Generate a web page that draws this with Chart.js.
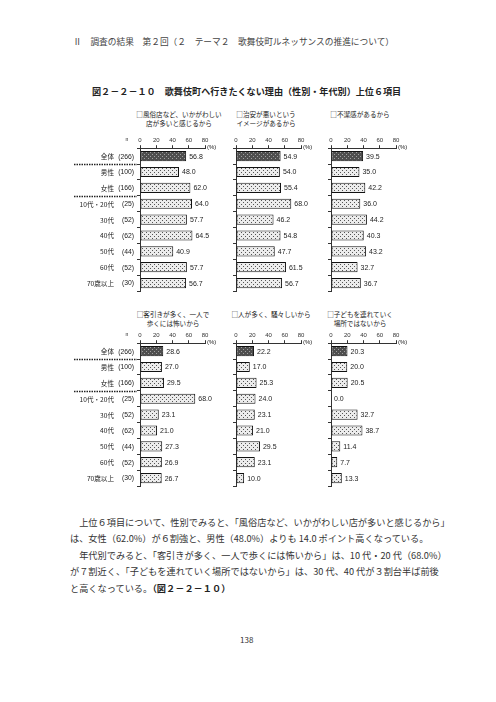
<!DOCTYPE html>
<html>
<head>
<meta charset="utf-8">
<script src="https://cdn.jsdelivr.net/npm/chart.js@4.4.0/dist/chart.umd.min.js"></script>
<style>
body{margin:0;width:496px;height:702px;background:#fff;position:relative;overflow:hidden;font-family:"Noto Sans CJK JP",sans-serif;color:#222}
.t{position:absolute;white-space:nowrap}
.pt{position:absolute;text-align:center;font-size:6.6px;line-height:8.5px;width:120px;color:#222}
.body{position:absolute;left:70px;font-size:9.2px;color:#333;white-space:nowrap}
canvas{position:absolute}
</style>
</head>
<body>
<div class="t" style="left:73px;top:35px;font-size:8.7px;color:#444">Ⅱ　調査の結果　第２回（２　テーマ２　歌舞伎町ルネッサンスの推進について）</div>
<div class="t" style="left:92px;top:84px;font-size:9.1px;font-weight:bold;color:#222">図２－２－１０　歌舞伎町へ行きたくない理由（性別・年代別）上位６項目</div>

<div class="pt" style="left:119px;top:110px">□風俗店など、いかがわしい<br>店が多いと感じるから</div>
<div class="pt" style="left:206px;top:110px">□治安が悪いという<br>イメージがあるから</div>
<div class="pt" style="left:300px;top:110px">□不潔感があるから</div>
<div class="pt" style="left:113px;top:310px">□客引きが多く、一人で<br>歩くには怖いから</div>
<div class="pt" style="left:211px;top:310px">□人が多く、騒々しいから</div>
<div class="pt" style="left:300px;top:310px">□子どもを連れていく<br>場所ではないから</div>

<canvas id="c1" width="173" height="172" style="left:60px;top:126px"></canvas>
<canvas id="c2" width="102" height="172" style="left:227px;top:126px"></canvas>
<canvas id="c3" width="102" height="172" style="left:322px;top:126px"></canvas>
<canvas id="c4" width="173" height="172" style="left:60px;top:321px"></canvas>
<canvas id="c5" width="102" height="172" style="left:227px;top:321px"></canvas>
<canvas id="c6" width="102" height="172" style="left:322px;top:321px"></canvas>

<div class="body" style="top:515px">　上位６項目について、性別でみると、「風俗店など、いかがわしい店が多いと感じるから」</div>
<div class="body" style="top:531px">は、女性（62.0%）が６割強と、男性（48.0%）よりも 14.0 ポイント高くなっている。</div>
<div class="body" style="top:548px">　年代別でみると、「客引きが多く、一人で歩くには怖いから」は、10 代・20 代（68.0%）</div>
<div class="body" style="top:564px">が７割近く、「子どもを連れていく場所ではないから」は、30 代、40 代が３割台半ば前後</div>
<div class="body" style="top:581px">と高くなっている。<b style="color:#222">（図２－２－１０）</b></div>
<div class="t" style="left:240px;top:634px;font-size:8px;color:#333">138</div>

<script>
// 属性（性別・年代別）とサンプル数
var groups = ['全体', '男性', '女性', '10代・20代', '30代', '40代', '50代', '60代', '70歳以上'];
var counts = ['(266)', '(100)', '(166)', '(25)', '(52)', '(62)', '(44)', '(52)', '(30)'];
var xTicks = [0, 20, 40, 60, 80];

// 各理由の割合（%）
var fuzoku = [56.8, 48.0, 62.0, 64.0, 57.7, 64.5, 40.9, 57.7, 56.7];
var chian = [54.9, 54.0, 55.4, 68.0, 46.2, 54.8, 47.7, 61.5, 56.7];
var fuketsu = [39.5, 35.0, 42.2, 36.0, 44.2, 40.3, 43.2, 32.7, 36.7];
var kyakuhiki = [28.6, 27.0, 29.5, 68.0, 23.1, 21.0, 27.3, 26.9, 26.7];
var sawagashii = [22.2, 17.0, 25.3, 24.0, 23.1, 21.0, 29.5, 23.1, 10.0];
var kodomo = [20.3, 20.0, 20.5, 0.0, 32.7, 38.7, 11.4, 7.7, 13.3];

var numFont = '"Liberation Sans", Arial, sans-serif';
var jpFont = '"Noto Sans CJK JP", sans-serif';

// 網掛けパターン（細かい点）
function dotPattern(ctx, base, dot) {
  var c = document.createElement('canvas');
  c.width = 4; c.height = 4;
  var g = c.getContext('2d');
  g.fillStyle = base;
  g.fillRect(0, 0, 4, 4);
  g.fillStyle = dot;
  g.fillRect(0, 0, 1, 1);
  g.fillRect(2, 2, 1, 1);
  return ctx.createPattern(c, 'repeat');
}

// 数値ラベル・(%)・左側の属性名
var sidePlugin = {
  id: 'side',
  afterDraw: function(chart) {
    var ctx = chart.ctx;
    var x = chart.scales.x;
    var y = chart.scales.y;
    var meta = chart.getDatasetMeta(0);
    var vals = chart.data.datasets[0].data;
    ctx.save();
    ctx.fillStyle = '#222';
    ctx.textBaseline = 'middle';
    ctx.textAlign = 'left';
    ctx.font = '7px ' + numFont;
    meta.data.forEach(function(bar, i) {
      ctx.fillText(vals[i].toFixed(1), bar.x + 3, bar.y + 0.5);
    });
    ctx.font = '6px ' + numFont;
    ctx.fillText('(%)', x.right + 2, x.bottom - 1);

    if (chart.options.plugins.side.show) {
      var left = chart.chartArea.left;
      ctx.textAlign = 'right';
      groups.forEach(function(g, i) {
        var py = y.getPixelForValue(i) + 0.5;
        ctx.font = '6.6px ' + jpFont;
        ctx.fillText(g, left - 26, py);
        ctx.font = '6.8px ' + numFont;
        ctx.fillText(counts[i], left - 6, py);
      });
      ctx.textAlign = 'center';
      ctx.font = '5px ' + numFont;
      ctx.fillText('n', left - 13, x.top + 4);
      // 区切りの点線
      ctx.strokeStyle = '#222';
      ctx.lineWidth = 1.5;
      ctx.setLineDash([1.5, 1]);
      [0, 2].forEach(function(i) {
        var py = Math.round((y.getPixelForValue(i) + y.getPixelForValue(i + 1)) / 2) + 0.5;
        ctx.beginPath();
        ctx.moveTo(left - 66, py);
        ctx.lineTo(left - 3, py);
        ctx.stroke();
      });
    }
    ctx.restore();
  }
};

function makeChart(id, values, showSide) {
  var ctx = document.getElementById(id).getContext('2d');
  var light = dotPattern(ctx, '#ececec', '#555555');
  var dark = dotPattern(ctx, '#4e4e4e', '#a0a0a0');
  return new Chart(ctx, {
    type: 'bar',
    data: {
      labels: groups,
      datasets: [{
        data: values,
        backgroundColor: values.map(function(v, i) { return i === 0 ? dark : light; }),
        borderColor: '#111',
        borderWidth: 1,
        borderSkipped: false,
        barPercentage: 0.64,
        categoryPercentage: 1
      }]
    },
    options: {
      indexAxis: 'y',
      responsive: false,
      animation: false,
      devicePixelRatio: 1,
      events: [],
      layout: { padding: { left: showSide ? 77 : 6, right: 28, top: 10, bottom: 7 } },
      scales: {
        x: {
          position: 'top',
          min: 0,
          max: 80,
          afterBuildTicks: function(s) { s.ticks = xTicks.map(function(v) { return { value: v }; }); },
          ticks: { font: { size: 6, family: numFont }, color: '#333', padding: 1, maxRotation: 0 },
          grid: { drawOnChartArea: false, tickLength: 3, color: '#333' },
          border: { color: '#333' }
        },
        y: {
          ticks: { display: false },
          grid: { drawOnChartArea: false, tickLength: 3, color: '#333' },
          border: { color: '#333' }
        }
      },
      plugins: {
        legend: { display: false },
        tooltip: { enabled: false },
        side: { show: showSide }
      }
    },
    plugins: [sidePlugin]
  });
}

makeChart('c1', fuzoku, true);
makeChart('c2', chian, false);
makeChart('c3', fuketsu, false);
makeChart('c4', kyakuhiki, true);
makeChart('c5', sawagashii, false);
makeChart('c6', kodomo, false);
</script>
</body>
</html>
